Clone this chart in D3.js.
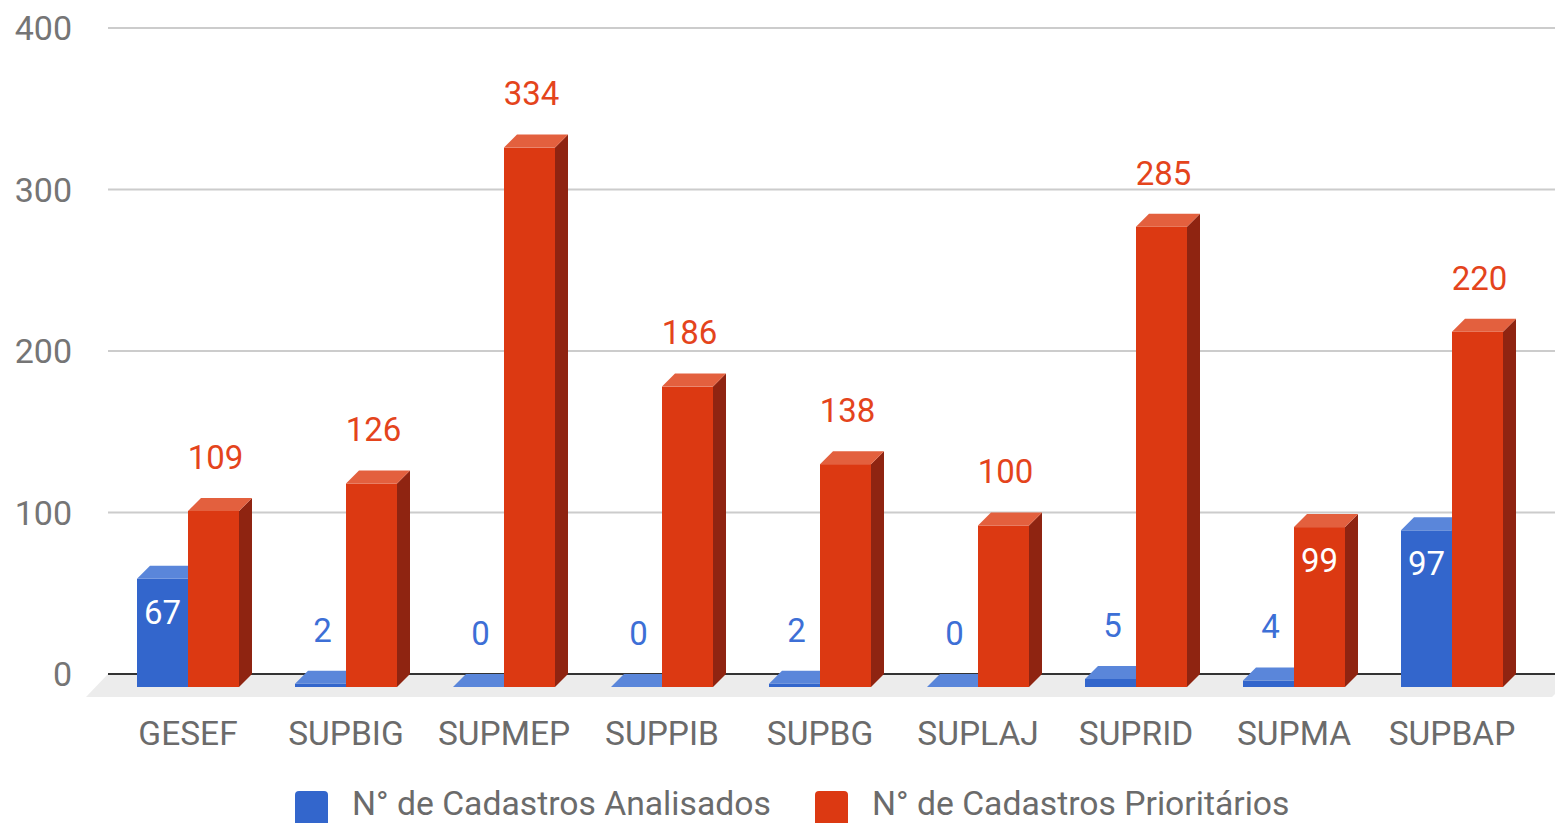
<!DOCTYPE html>
<html><head><meta charset="utf-8">
<script src="https://cdn.jsdelivr.net/npm/d3@7"></script>
<style>html,body{margin:0;padding:0;background:#fff;overflow:hidden}svg{display:block}</style>
</head><body>
<svg id="c" width="1555" height="823"></svg>
<script>
const categories = ["GESEF","SUPBIG","SUPMEP","SUPPIB","SUPBG","SUPLAJ","SUPRID","SUPMA","SUPBAP"];
const analisados = [67, 2, 0, 0, 2, 0, 5, 4, 97];
const prioritarios = [109, 126, 334, 186, 138, 100, 285, 99, 220];
const seriesNames = ["N° de Cadastros Analisados", "N° de Cadastros Prioritários"];
const yTicks = [0, 100, 200, 300, 400];
// labels drawn inside the bar (series index : category)
const insideLabels = ["0:GESEF", "0:SUPBAP", "1:SUPMA"];

const W = 1555, H = 823;
const font = "Roboto, 'Noto Sans', sans-serif";
const svg = d3.select("#c");
const depth = 13;
const barW = 51;

const y = d3.scaleLinear().domain([0, 400]).range([674, 28]);
const x = d3.scaleBand().domain(categories).range([109, 1531]);

// floor
const fl = y(0);
svg.append("polygon")
  .attr("points", [[108, fl], [1575, fl], [1552, fl + 23], [86, fl + 23]].map(p => p.join(",")).join(" "))
  .attr("fill", "#ececec");

// gridlines
svg.append("g").selectAll("line").data(yTicks.filter(t => t !== 0)).join("line")
  .attr("x1", 108).attr("x2", W).attr("y1", d => y(d)).attr("y2", d => y(d))
  .attr("stroke", "#cccccc").attr("stroke-width", 2);
svg.append("line").attr("x1", 108).attr("x2", W).attr("y1", fl).attr("y2", fl)
  .attr("stroke", "#333333").attr("stroke-width", 2);

// y tick labels
svg.append("g").selectAll("text").data(yTicks).join("text")
  .attr("x", 72).attr("y", d => y(d)).attr("dy", "0.36em")
  .attr("text-anchor", "end").attr("font-family", font).attr("font-size", 34)
  .attr("fill", "#757575").text(d => d);

const series = [
  {name: seriesNames[0], values: analisados, front: "#3366cc", top: "#5a86da", side: "#24489a", label: "#3d6fd6", off: -barW},
  {name: seriesNames[1], values: prioritarios, front: "#dc3912", top: "#e3603e", side: "#8f2411", label: "#e4441c", off: 0}
];

const gBars = svg.append("g");
series.forEach((s, si) => {
  categories.forEach((c, ci) => {
    const v = s.values[ci];
    const cx = x(c) + x.bandwidth() / 2;
    const x0 = cx + s.off, x1 = x0 + barW;
    const yb = y(0) + depth, yt = y(v) + depth;
    gBars.append("polygon")
      .attr("points", [[x1, yt], [x1 + depth, yt - depth], [x1 + depth, yb - depth], [x1, yb]].map(p => p.join(",")).join(" "))
      .attr("fill", s.side);
    gBars.append("rect").attr("x", x0).attr("y", yt).attr("width", barW).attr("height", yb - yt).attr("fill", s.front);
    gBars.append("polygon")
      .attr("points", [[x0, yt], [x0 + depth, yt - depth], [x1 + depth, yt - depth], [x1, yt]].map(p => p.join(",")).join(" "))
      .attr("fill", s.top);
  });
});

// value labels
const gLab = svg.append("g");
series.forEach((s, si) => {
  categories.forEach((c, ci) => {
    const v = s.values[ci];
    const cx = x(c) + x.bandwidth() / 2 + s.off + barW / 2;
    const yt = y(v) + depth;
    const inside = insideLabels.includes(si + ":" + c);
    gLab.append("text")
      .attr("x", cx + (inside ? 0 : 2))
      .attr("y", inside ? yt + 33 : yt - 54)
      .attr("dy", "0.36em").attr("text-anchor", "middle")
      .attr("font-family", font).attr("font-size", 33)
      .attr("fill", inside ? "#ffffff" : s.label).text(v);
  });
});

// category labels
svg.append("g").selectAll("text").data(categories).join("text")
  .attr("x", d => x(d) + x.bandwidth() / 2).attr("y", 745)
  .attr("text-anchor", "middle").attr("font-family", font).attr("font-size", 33.5)
  .attr("fill", "#6b6b6b").text(d => d);

// legend
const legX = [295, 815];
const leg = svg.append("g");
series.forEach((s, i) => {
  leg.append("rect").attr("x", legX[i]).attr("y", 791).attr("width", 33).attr("height", 40)
    .attr("rx", 4).attr("fill", s.front);
  leg.append("text").attr("x", legX[i] + 57).attr("y", 815)
    .attr("font-family", font).attr("font-size", 33.7).attr("fill", "#6b6b6b").text(s.name);
});
</script>
</body></html>
